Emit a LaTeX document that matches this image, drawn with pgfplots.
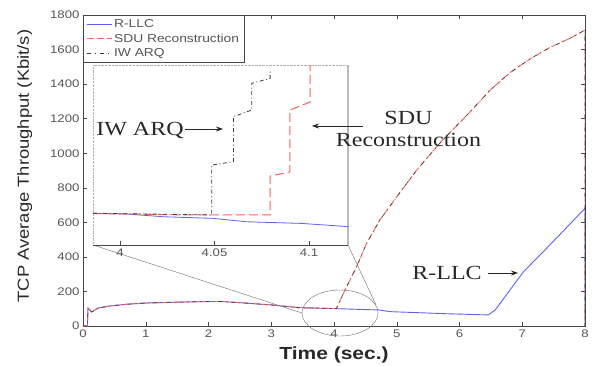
\documentclass[border=0pt]{standalone}
\usepackage{pgfplots}
\pgfplotsset{compat=1.18}
\usepackage{pgfplotstable}
\usetikzlibrary{arrows.meta}
\usepackage{fontspec}
\setmainfont{Liberation Sans}[FakeStretch=1.2]
\newfontfamily\annfont{Liberation Serif}[FakeStretch=1.2]
\newfontfamily\ylabfont{Liberation Sans}[FakeStretch=1.15]
\definecolor{llc}{RGB}{95,95,255}
\definecolor{sdu}{RGB}{255,95,95}
\definecolor{iw}{RGB}{60,60,60}
\definecolor{frame}{RGB}{70,70,70}
\definecolor{tickc}{RGB}{85,85,85}
\definecolor{anncol}{RGB}{40,40,40}

\pgfplotstableread{
x y
0 0
0.07 0
0.08 104
0.14 81
0.24 104
0.43 116
0.7 126
1.0 133
1.5 138
2.0 142
2.2 142
2.5 135
3.0 122
3.45 106
4.0 101
4.5 95
4.71 93
4.9 83
5.8 71
6.46 64
6.57 93
7.02 314
7.44 469
8.0 681
8.0 0
}\llcdata

\pgfplotstableread{
x y
0 0
0.07 0
0.08 104
0.14 81
0.24 104
0.43 116
0.7 126
1.0 133
1.5 138
2.0 142
2.2 142
2.5 135
3.0 122
3.45 106
4.0 101
4.04 102
4.2 227
4.36 343
4.52 479
4.73 613
5.0 748
5.32 903
5.69 1060
6.17 1240
6.49 1366
6.8 1465
7.12 1545
7.44 1612
7.76 1665
8.0 1713
8.0 0
}\sdudata

\pgfplotstableread{
x y
3.9857 17.6
4.0035 17.2
4.023 15.7
4.049 14.8
4.067 12.9
4.096 12.0
4.1206 10.2
}\llcin

\pgfplotstableread{
x y
3.9857 17.5
4.03 16.8
4.0794 16.7
4.0794 38.3
4.0899 40.6
4.0899 75
4.1005 79.4
4.1005 100
}\sduin

\pgfplotstableread{
x y
3.9857 17.6
4.03 17.0
4.0485 16.7
4.0485 44.4
4.06 46.3
4.06 71.3
4.0697 75
4.0697 89.8
4.0794 92.6
4.0794 97.2
}\iwin

\begin{document}
\begin{tikzpicture}
\begin{axis}[
  name=main, at={(0pt,0pt)}, anchor=south west,
  scale only axis, width=502pt, height=311pt,
  xmin=0, xmax=8, ymin=0, ymax=1800,
  xtick={0,1,...,8}, ytick={0,200,...,1800},
  /pgf/number format/assume math mode=true,
  /pgf/number format/1000 sep={},
  scaled ticks=false,
  tick label style={font=\fontsize{11}{13}\selectfont, text=tickc},
  axis line style={frame}, tick style={frame, thin},
  tick align=inside, major tick length=4pt,
  every axis x label/.style={at={(axis description cs:0.5,-0.093)}, anchor=center},
  every axis y label/.style={at={(axis description cs:-0.116,0.514)}, rotate=90, anchor=center},
  xlabel={\fontsize{17.5}{20}\selectfont\bfseries Time (sec.)},
  ylabel={\ylabfont\fontsize{16}{18}\selectfont TCP Average Throughput (Kbit/s)},
  label style={text=anncol},
  legend style={at={(0,1)}, anchor=north west, draw=frame,
    font=\fontsize{11.5}{12}\selectfont, text=tickc, row sep=0.5pt,
    inner xsep=3pt, inner ysep=2.5pt},
  legend cell align=left,
  legend image code/.code={\draw[#1] (0pt,0pt) -- (25pt,0pt);},
]
\addplot[color=llc, line width=0.9pt] table[x=x,y=y] {\llcdata};
\addlegendentry{R-LLC}
\addplot[color=sdu, line width=0.9pt, dash pattern=on 7pt off 3pt] table[x=x,y=y] {\sdudata};
\addlegendentry{SDU Reconstruction}
\addplot[color=iw, line width=0.6pt, dash pattern=on 4pt off 4pt on 1pt off 4pt] table[x=x,y=y] {\sdudata};
\addlegendentry{IW ARQ}
\end{axis}

% zoom ellipse and connecting lines
\draw[gray!85!black, thin] (257pt,13pt) ellipse [x radius=38pt, y radius=23pt];
\draw[gray!85!black, thin] (10pt,81pt) -- (219pt,13pt);
\draw[gray!85!black, thin] (265pt,81pt) -- (293pt,21pt);

\node[font=\annfont\fontsize{20}{22}\selectfont, text=anncol] at (364pt,53pt) {R-LLC};
\draw[anncol, line width=0.7pt, -{Stealth[length=7pt,width=5pt]}] (405pt,53pt) -- (435pt,53pt);

% inset
\begin{axis}[
  at={(10pt,81pt)}, anchor=south west,
  scale only axis, width=255pt, height=180pt,
  xmin=3.9857, xmax=4.1206, ymin=0, ymax=100,
  xtick={4,4.05,4.1}, xticklabels={4,4.05,4.1}, ytick=\empty,
  xtick pos=left,
  tick label style={font=\fontsize{11}{13}\selectfont, text=tickc},
  axis line style={draw=none},
  axis background/.style={fill=white},
  tick style={frame, thin}, tick align=inside, major tick length=4pt,
  clip=false,
]
\draw[gray!60, densely dotted, thin] (rel axis cs:0,0) -- (rel axis cs:0,1) -- (rel axis cs:1,1);
\draw[gray!55, line width=1pt] (rel axis cs:1,1) -- (rel axis cs:1,0);
\draw[frame, thin] (rel axis cs:0,0) -- (rel axis cs:1,0);
\addplot[color=llc, line width=0.8pt] table[x=x,y=y] {\llcin};
\addplot[color=sdu, line width=1pt, dash pattern=on 9pt off 4pt] table[x=x,y=y] {\sduin};
\addplot[color=iw, line width=0.8pt, dash pattern=on 4pt off 2.5pt on 1pt off 2.5pt] table[x=x,y=y] {\iwin};
\end{axis}

% annotations drawn over the inset
\node[font=\annfont\fontsize{20}{22}\selectfont, text=anncol] at (57pt,196pt) {IW ARQ};
\draw[anncol, line width=0.7pt, -{Stealth[length=7pt,width=5pt]}] (102pt,197pt) -- (140pt,197pt);
\node[font=\annfont\fontsize{20}{22}\selectfont, text=anncol, align=center] at (325.5pt,197pt) {SDU\\Reconstruction};
\draw[anncol, line width=0.7pt, -{Stealth[length=7pt,width=5pt]}] (280pt,200pt) -- (229pt,200pt);

\pgfresetboundingbox
\path[use as bounding box] (-83pt,-39pt) rectangle (512pt,326pt);
\end{tikzpicture}
\end{document}
